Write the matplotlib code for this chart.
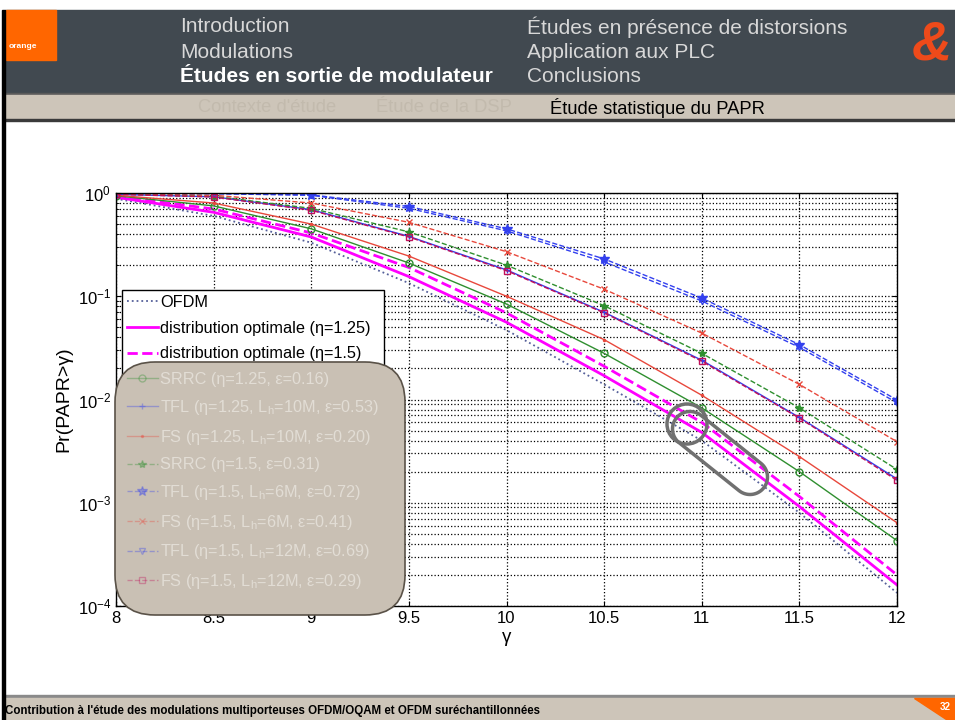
import numpy as np
import matplotlib
matplotlib.use("Agg")
import matplotlib.pyplot as plt
from matplotlib import patches, transforms

# data
gamma = [8, 8.5, 9, 9.5, 10, 10.5, 11, 11.5, 12]
ofdm      = [0.88, 0.60, 0.33, 0.134, 0.047, 0.0140, 0.0040, 0.00080, 0.000134]
opt_125   = [0.91, 0.65, 0.375, 0.155, 0.056, 0.0170, 0.0048, 0.00092, 0.000160]
opt_15    = [0.93, 0.70, 0.41, 0.190, 0.069, 0.0210, 0.0060, 0.00115, 0.000200]
srrc_125  = [0.94, 0.75, 0.45, 0.210, 0.084, 0.0280, 0.0083, 0.0020, 0.00043]
tfl_125   = [0.97, 0.92, 0.69, 0.380, 0.180, 0.0700, 0.0240, 0.0067, 0.00170]
fs_125    = [0.95, 0.80, 0.50, 0.245, 0.100, 0.0380, 0.0110, 0.0028, 0.00064]
srrc_15   = [0.98, 0.93, 0.71, 0.420, 0.200, 0.0810, 0.0280, 0.0083, 0.00210]
tfl_15_6  = [1.00, 0.99, 0.96, 0.740, 0.450, 0.2300, 0.0960, 0.0340, 0.00990]
fs_15_6   = [0.99, 0.95, 0.80, 0.520, 0.270, 0.1170, 0.0440, 0.0140, 0.00390]
tfl_15_12 = [0.995, 0.985, 0.95, 0.710, 0.430, 0.2150, 0.0900, 0.0320, 0.00930]
fs_15_12  = [0.97, 0.915, 0.68, 0.375, 0.177, 0.0690, 0.0235, 0.0066, 0.00165]

xtick_labels = ["8", "8.5", "9", "9.5", "10", "10.5", "11", "11.5", "12"]

labels = [
    "OFDM",
    "distribution optimale (η=1.25)",
    "distribution optimale (η=1.5)",
    "SRRC (η=1.25, ε=0.16)",
    "TFL (η=1.25, L$_\\mathregular{h}$=10M, ε=0.53)",
    "FS (η=1.25, L$_\\mathregular{h}$=10M, ε=0.20)",
    "SRRC (η=1.5, ε=0.31)",
    "TFL (η=1.5, L$_\\mathregular{h}$=6M, ε=0.72)",
    "FS (η=1.5, L$_\\mathregular{h}$=6M, ε=0.41)",
    "TFL (η=1.5, L$_\\mathregular{h}$=12M, ε=0.69)",
    "FS (η=1.5, L$_\\mathregular{h}$=12M, ε=0.29)",
]

GREEN = "#2f8f2f"
RED = "#e8483c"
BLUE = "#3340ee"
MAG = "#ff00ff"

series = [
    (ofdm,      dict(color="#55609a", ls=":", lw=1.3)),
    (opt_125,   dict(color=MAG, ls="-", lw=2.0)),
    (opt_15,    dict(color=MAG, ls="--", lw=2.0)),
    (srrc_125,  dict(color=GREEN, ls="-", lw=1.0, marker="o", ms=5, mfc="none")),
    (tfl_125,   dict(color=BLUE, ls="-", lw=1.0, marker="+", ms=5)),
    (fs_125,    dict(color=RED, ls="-", lw=1.0, marker=".", ms=3)),
    (srrc_15,   dict(color=GREEN, ls="--", lw=1.0, marker="*", ms=6)),
    (tfl_15_6,  dict(color=BLUE, ls="--", lw=1.0, marker="*", ms=7)),
    (fs_15_6,   dict(color=RED, ls="--", lw=1.0, marker="x", ms=4)),
    (tfl_15_12, dict(color=BLUE, ls="--", lw=1.0, marker="v", ms=5, mfc="none")),
    (fs_15_12,  dict(color="#c0105a", ls="--", lw=1.0, marker="s", ms=5, mfc="none")),
]

W, H = 955, 720
plt.rcParams["font.family"] = ["Liberation Sans", "DejaVu Sans"]
plt.rcParams["mathtext.fontset"] = "custom"
plt.rcParams["mathtext.rm"] = "Liberation Sans"
fig = plt.figure(figsize=(W / 100, H / 100), dpi=100)


def fx(x):
    return x / W


def fy(y):
    return 1 - y / H


def rect(x0, y0, x1, y1, color, z=0):
    fig.patches.append(patches.Rectangle((fx(x0), fy(y1)), fx(x1 - x0), (y1 - y0) / H,
                                         transform=fig.transFigure, color=color, zorder=z))


# slide chrome
rect(5, 10, W, 93, "#414950")
rect(6, 10, 56, 60, "#ff6600", z=1)
fig.text(fx(9), fy(48), "orange", color="white", fontsize=6, fontweight="bold", zorder=3)
rect(5, 93, W, 95, "#5a5a5a")
rect(5, 95, W, 119, "#cdc5b9")
rect(5, 119, W, 121, "#3a3a3a")
rect(2, 10, 5, H, "black", z=2)
rect(5, 695, W, 698, "#8a8a8a")
rect(5, 698, W, H, "#cdc5b9")
fig.patches.append(patches.Polygon([(fx(914), fy(698)), (fx(W), fy(698)), (fx(W), fy(725))],
                                   closed=True, transform=fig.transFigure, color="#ff6600", zorder=1))
fig.text(fx(940), fy(707), "32", color="white", fontsize=7, fontweight="bold", va="center")
fig.text(fx(912), fy(45), "&", color="#ee4a1a", fontsize=40, fontstyle="italic",
         fontweight="bold", va="center", ha="left")

hdr = dict(fontsize=15, va="center", ha="left")
fig.text(fx(180), fy(27), "Introduction", color="#d8d8d8", **hdr)
fig.text(fx(180), fy(52), "Modulations", color="#d8d8d8", **hdr)
fig.text(fx(180), fy(77), "Études en sortie de modulateur", color="white", fontweight="bold", **hdr)
fig.text(fx(527), fy(27), "Études en présence de distorsions", color="#d8d8d8", **hdr)
fig.text(fx(527), fy(52), "Application aux PLC", color="#d8d8d8", **hdr)
fig.text(fx(527), fy(77), "Conclusions", color="#d8d8d8", **hdr)

sub = dict(fontsize=13.2, va="center", ha="left")
fig.text(fx(198), fy(108), "Contexte d'étude", color="#c2baad", **sub)
fig.text(fx(376), fy(108), "Étude de la DSP", color="#c2baad", **sub)
fig.text(fx(550), fy(108), "Étude statistique du PAPR", color="black", **sub)
fig.text(fx(5), fy(711), "Contribution à l'étude des modulations multiporteuses OFDM/OQAM et OFDM suréchantillonnées",
         fontsize=8.3, fontweight="bold", va="center", ha="left")

# axes
ax = fig.add_axes([fx(116), fy(606), (897 - 116) / W, (606 - 193) / H])
for (vals, st), lab in zip(series, labels):
    ax.semilogy(gamma, vals, label=lab, **st)

ax.set_xlim(8, 12)
ax.set_ylim(1e-4, 1)
ax.set_xticks(gamma)
ax.set_xticklabels(xtick_labels)
ax.grid(True, which="major", ls=":", color="black", lw=0.9)
ax.grid(True, which="minor", axis="y", ls=":", color="black", lw=0.9)
ax.tick_params(direction="in", top=True, right=True, which="both", labelsize=12)
ax.set_xlabel("γ", fontsize=13.5, labelpad=2)
ax.set_ylabel("Pr(PAPR>γ)", fontsize=14, labelpad=4)
for s in ax.spines.values():
    s.set_linewidth(1.0)

leg_kw = dict(loc="upper left", bbox_to_anchor=(0.0077, 0.765), borderaxespad=0,
              fontsize=11.7, handlelength=1.9, handletextpad=0.15, labelspacing=0.66,
              borderpad=0.3)
leg1 = ax.legend(fancybox=False, edgecolor="black", framealpha=1, **leg_kw)
leg1.get_frame().set_linewidth(1.0)
leg1.set_zorder(5)
ax.add_artist(leg1)

# shaded rounded box over the lower part of the legend
ident = transforms.IdentityTransform()
box = patches.FancyBboxPatch((115, H - 615), 290, 253, boxstyle="round,pad=0,rounding_size=40",
                             transform=ident, facecolor="#c9c0b4", edgecolor="#5a5248",
                             lw=1.2, zorder=6, clip_on=False)
ax.add_patch(box)

# faint legend entries seen through the box
leg2 = ax.legend(frameon=False, **leg_kw)
leg2.set_zorder(7)
for i, (txt, hnd) in enumerate(zip(leg2.get_texts(), leg2.legend_handles)):
    if i < 3:
        txt.set_visible(False)
        hnd.set_visible(False)
    else:
        txt.set_color("#e2ddd5")
        hnd.set_alpha(0.35)

# gray annotation marks
circ = patches.Circle((687, H - 424), 20, transform=ident, fill=False,
                      edgecolor="#707070", lw=2.5, zorder=8, clip_on=False)
ax.add_patch(circ)
p0 = np.array([690.0, H - 429.0])
p1 = np.array([750.0, H - 477.0])
r = 17.5
d = (p1 - p0) / np.linalg.norm(p1 - p0)
ang = np.arctan2(d[1], d[0])
t1 = np.linspace(ang - np.pi / 2, ang + np.pi / 2, 40)
t0 = np.linspace(ang + np.pi / 2, ang + 3 * np.pi / 2, 40)
pts = np.vstack([p1 + r * np.c_[np.cos(t1), np.sin(t1)], p0 + r * np.c_[np.cos(t0), np.sin(t0)]])
cap = patches.Polygon(pts, closed=True, transform=ident, fill=False,
                      edgecolor="#707070", lw=2.5, zorder=8, clip_on=False)
ax.add_patch(cap)

fig.savefig("out.png", dpi=100)
